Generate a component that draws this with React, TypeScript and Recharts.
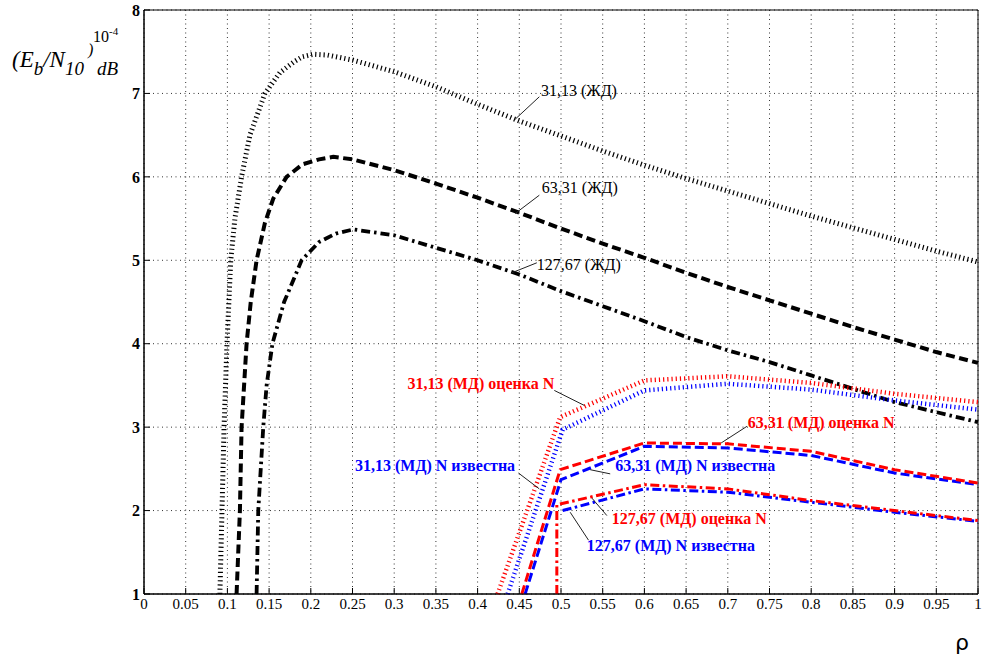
import React from 'react';
import {
  LineChart,
  Line,
  XAxis,
  YAxis,
  CartesianGrid,
  ReferenceLine,
  ReferenceDot,
  ReferenceArea,
} from 'recharts';

// ρ values and (Eb/N0) values for each curve
const rhoJd31 = [0.091, 0.0935, 0.096, 0.0995, 0.104, 0.109, 0.117, 0.127, 0.145, 0.163, 0.18, 0.19, 0.203, 0.22, 0.25, 0.3, 0.35, 0.4, 0.45, 0.5, 0.55, 0.6, 0.65, 0.7, 0.75, 0.8, 0.85, 0.9, 0.95, 1.0];
const valJd31 = [1, 2, 3, 4, 5, 5.5, 6, 6.5, 7, 7.25, 7.38, 7.44, 7.47, 7.46, 7.4, 7.26, 7.08, 6.87, 6.67, 6.49, 6.31, 6.14, 5.98, 5.83, 5.68, 5.53, 5.39, 5.25, 5.11, 4.98];

const rhoJd63 = [0.111, 0.115, 0.117, 0.123, 0.128, 0.135, 0.145, 0.155, 0.171, 0.19, 0.21, 0.227, 0.25, 0.3, 0.35, 0.4, 0.45, 0.5, 0.55, 0.6, 0.65, 0.7, 0.75, 0.8, 0.85, 0.9, 0.95, 1.0];
const valJd63 = [1, 2, 3, 4, 4.5, 5, 5.45, 5.74, 6, 6.15, 6.21, 6.24, 6.21, 6.08, 5.92, 5.75, 5.57, 5.38, 5.2, 5.03, 4.85, 4.68, 4.52, 4.36, 4.2, 4.05, 3.9, 3.77];

const rhoJd127 = [0.135, 0.137, 0.143, 0.147, 0.154, 0.168, 0.189, 0.21, 0.23, 0.251, 0.3, 0.35, 0.4, 0.45, 0.5, 0.55, 0.6, 0.65, 0.7, 0.75, 0.8, 0.85, 0.9, 0.95, 1.0];
const valJd127 = [1, 2, 3, 3.5, 4, 4.5, 5, 5.22, 5.32, 5.37, 5.3, 5.15, 5.0, 4.83, 4.63, 4.45, 4.27, 4.08, 3.92, 3.78, 3.62, 3.46, 3.3, 3.18, 3.06];

const rhoMd31Est = [0.424, 0.499, 0.6, 0.7, 0.8, 0.9, 1.0];
const valMd31Est = [1, 3.12, 3.56, 3.61, 3.53, 3.4, 3.3];
const rhoMd31Known = [0.436, 0.502, 0.6, 0.7, 0.8, 0.9, 1.0];
const valMd31Known = [1, 2.97, 3.44, 3.52, 3.45, 3.32, 3.21];

const rhoMd63Est = [0.453, 0.499, 0.6, 0.7, 0.8, 0.9, 1.0];
const valMd63Est = [1, 2.49, 2.81, 2.8, 2.71, 2.49, 2.33];
const rhoMd63Known = [0.457, 0.5, 0.6, 0.7, 0.8, 0.9, 1.0];
const valMd63Known = [1, 2.37, 2.77, 2.75, 2.66, 2.45, 2.31];

const rhoMd127Est = [0.495, 0.495, 0.6, 0.7, 0.8, 0.9, 1.0];
const valMd127Est = [1, 2.07, 2.31, 2.26, 2.12, 2.0, 1.88];
const rhoMd127Known = [0.502, 0.6, 0.7, 0.8, 0.9, 1.0];
const valMd127Known = [2.0, 2.26, 2.22, 2.1, 1.98, 1.87];

const xTicks = [0, 0.05, 0.1, 0.15, 0.2, 0.25, 0.3, 0.35, 0.4, 0.45, 0.5, 0.55, 0.6, 0.65, 0.7, 0.75, 0.8, 0.85, 0.9, 0.95, 1];
const yTicks = [1, 2, 3, 4, 5, 6, 7, 8];

// annotations: text, text anchor point, leader line
const notes = [
  { text: '31,13 (ЖД)', x: 0.476, y: 7.03, anchor: 'start', color: '#000', bold: false, lx1: 0.445, ly1: 6.69, lx2: 0.474, ly2: 6.96 },
  { text: '63,31  (ЖД)', x: 0.477, y: 5.87, anchor: 'start', color: '#000', bold: false, lx1: 0.445, ly1: 5.56, lx2: 0.474, ly2: 5.78 },
  { text: '127,67 (ЖД)', x: 0.471, y: 4.95, anchor: 'start', color: '#000', bold: false, lx1: 0.441, ly1: 4.85, lx2: 0.471, ly2: 4.97 },
  { text: '31,13 (МД) оценка N', x: 0.492, y: 3.52, anchor: 'end', color: '#ff0000', bold: true, lx1: 0.492, ly1: 3.44, lx2: 0.528, ly2: 3.26 },
  { text: '31,13 (МД) N известна', x: 0.445, y: 2.54, anchor: 'end', color: '#0000ff', bold: true, lx1: 0.449, ly1: 2.45, lx2: 0.474, ly2: 2.26 },
  { text: '63,31 (МД) оценка N', x: 0.724, y: 3.06, anchor: 'start', color: '#ff0000', bold: true, lx1: 0.692, ly1: 2.81, lx2: 0.723, ly2: 3.01 },
  { text: '63,31 (МД) N известна', x: 0.565, y: 2.54, anchor: 'start', color: '#0000ff', bold: true, lx1: 0.535, ly1: 2.49, lx2: 0.559, ly2: 2.44 },
  { text: '127,67 (МД) оценка N', x: 0.561, y: 1.9, anchor: 'start', color: '#ff0000', bold: true, lx1: 0.537, ly1: 2.15, lx2: 0.555, ly2: 1.94 },
  { text: '127,67 (МД) N известна', x: 0.531, y: 1.58, anchor: 'start', color: '#0000ff', bold: true, lx1: 0.511, ly1: 1.98, lx2: 0.533, ly2: 1.645 },
];

const zip = (xs: number[], ys: number[]) => xs.map((x, i) => ({ x, y: ys[i] }));

const serif = '"Liberation Serif", "Times New Roman", serif';

const series = [
  { key: 'jd31', data: zip(rhoJd31, valJd31), stroke: '#000', width: 5, dash: '1.2 3' },
  { key: 'jd63', data: zip(rhoJd63, valJd63), stroke: '#000', width: 4, dash: '9 4.5' },
  { key: 'jd127', data: zip(rhoJd127, valJd127), stroke: '#000', width: 3.8, dash: '9 4 2.5 4' },
  { key: 'md31k', data: zip(rhoMd31Known, valMd31Known), stroke: '#0000ff', width: 4.5, dash: '1.2 3' },
  { key: 'md31e', data: zip(rhoMd31Est, valMd31Est), stroke: '#ff0000', width: 4.5, dash: '1.2 3' },
  { key: 'md63k', data: zip(rhoMd63Known, valMd63Known), stroke: '#0000ff', width: 3, dash: '9 4' },
  { key: 'md63e', data: zip(rhoMd63Est, valMd63Est), stroke: '#ff0000', width: 3, dash: '9 4' },
  { key: 'md127k', data: zip(rhoMd127Known, valMd127Known), stroke: '#0000ff', width: 3, dash: '9 3.5 2.5 3.5' },
  { key: 'md127e', data: zip(rhoMd127Est, valMd127Est), stroke: '#ff0000', width: 3, dash: '9 3.5 2.5 3.5' },
];

export default function App() {
  return (
    <div style={{ position: 'absolute', left: 0, top: 0, width: 982, height: 658, background: '#fff' }}>
      <LineChart width={982} height={658} margin={{ top: 10, right: 4, left: 0, bottom: 0 }}>
        <CartesianGrid stroke="#333" strokeDasharray="1 3.5" />
        <XAxis
          type="number"
          dataKey="x"
          domain={[0, 1]}
          ticks={xTicks}
          height={64}
          tickSize={-6}
          tickMargin={10}
          stroke="#000"
          tick={{ fill: '#000', fontSize: 15, fontFamily: serif }}
        />
        <YAxis
          type="number"
          domain={[1, 8]}
          ticks={yTicks}
          width={144}
          tickSize={-6}
          tickMargin={10}
          stroke="#000"
          tick={{ fill: '#000', fontSize: 16, fontFamily: serif, fontWeight: 'bold' }}
        />
        <ReferenceArea x1={0} x2={1} y1={1} y2={8} fill="none" stroke="#000" strokeWidth={1} />
        {series.map((s) => (
          <Line
            key={s.key}
            data={s.data}
            dataKey="y"
            type="linear"
            stroke={s.stroke}
            strokeWidth={s.width}
            strokeDasharray={s.dash}
            dot={false}
            activeDot={false}
            isAnimationActive={false}
          />
        ))}
        {notes.map((n, i) => (
          <ReferenceLine
            key={'l' + i}
            segment={[{ x: n.lx1, y: n.ly1 }, { x: n.lx2, y: n.ly2 }]}
            stroke="#222"
            strokeWidth={1}
          />
        ))}
        {notes.map((n, i) => (
          <ReferenceDot
            key={'t' + i}
            x={n.x}
            y={n.y}
            r={0}
            shape={(p: any) => (
              <text
                x={p.cx}
                y={p.cy}
                textAnchor={n.anchor}
                dominantBaseline="central"
                fill={n.color}
                fontFamily={serif}
                fontSize={16}
                fontWeight={n.bold ? 'bold' : 'normal'}
              >
                {n.text}
              </text>
            )}
          />
        ))}
      </LineChart>
      <svg
        width={982}
        height={658}
        style={{ position: 'absolute', left: 0, top: 0, pointerEvents: 'none' }}
      >
        <text fontFamily={serif} fontStyle="italic" fill="#000">
          <tspan x={12} y={67} fontSize={23}>(E</tspan>
          <tspan y={75} fontSize={19}>b</tspan>
          <tspan y={67} fontSize={23}>/N</tspan>
          <tspan y={75} fontSize={19}>10</tspan>
        </text>
        <text x={88} y={55} fontFamily={serif} fontStyle="italic" fontSize={16} fill="#000">)</text>
        <text x={97} y={75} fontFamily={serif} fontStyle="italic" fontSize={19} fill="#000">dB</text>
        <text x={93} y={42} fontFamily={serif} fontSize={16} fill="#000">
          10<tspan dy={-7} fontSize={11}>-4</tspan>
        </text>
        <text x={962} y={650} textAnchor="middle" fontFamily='"DejaVu Sans", sans-serif' fontSize={22} fill="#000">ρ</text>
      </svg>
    </div>
  );
}
